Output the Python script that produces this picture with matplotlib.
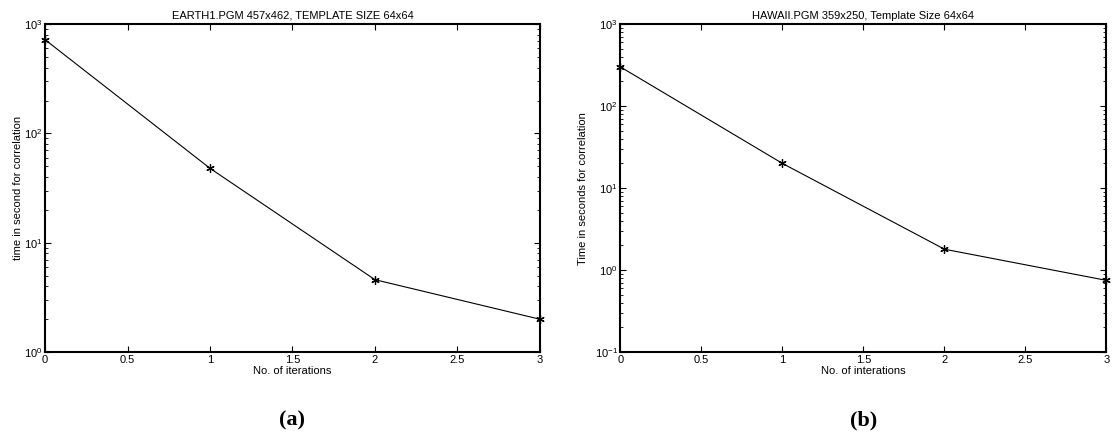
import numpy as np
import matplotlib
matplotlib.use("Agg")
import matplotlib.pyplot as plt
from matplotlib.ticker import LogLocator, NullFormatter

plt.rcParams['font.family'] = ['Liberation Sans', 'DejaVu Sans']
plt.rcParams['mathtext.fontset'] = 'custom'
plt.rcParams['mathtext.rm'] = 'Liberation Sans'

# veriler
iterations = [0, 1, 2, 3]
earth_time = [720, 48, 4.6, 2.0]
hawaii_time = [300, 20, 1.8, 0.75]
x_ticks = [0, 0.5, 1, 1.5, 2, 2.5, 3]

fig = plt.figure(figsize=(11.12, 4.38), dpi=100)
ax1 = fig.add_axes([0.0405, 0.196, 0.445, 0.749])
ax2 = fig.add_axes([0.558, 0.196, 0.437, 0.749])


def style_axis(ax, ymin, ymax):
    ax.set_yscale('log')
    ax.set_xlim(0, 3)
    ax.set_ylim(ymin, ymax)
    ax.set_xticks(x_ticks)
    ax.set_xticklabels([f"{t:g}" for t in x_ticks])
    ax.yaxis.set_major_locator(LogLocator(base=10, numticks=10))
    ax.yaxis.set_minor_locator(LogLocator(base=10, subs=np.arange(2, 10), numticks=10))
    ax.yaxis.set_minor_formatter(NullFormatter())
    ax.tick_params(which='both', direction='in', top=True, right=True,
                   labelsize=8, pad=2)
    ax.tick_params(which='major', length=4, width=0.8)
    ax.tick_params(which='minor', length=2, width=0.6)
    for s in ax.spines.values():
        s.set_linewidth(1.5)


# MATLAB tarzı yıldız işaretçi
star = (6, 2, 0)

ax1.plot(iterations, earth_time, color='black', lw=0.8, marker=star,
         markersize=6, markeredgewidth=0.9, clip_on=False)
style_axis(ax1, 1, 1000)
ax1.set_title("EARTH1.PGM 457x462, TEMPLATE SIZE 64x64", fontsize=8, pad=4)
ax1.set_xlabel("No. of iterations", fontsize=8, labelpad=1)
ax1.set_ylabel("time in second for correlation", fontsize=8)
ax1.yaxis.set_label_coords(-0.045, 0.5)

ax2.plot(iterations, hawaii_time, color='black', lw=0.8, marker=star,
         markersize=6, markeredgewidth=0.9, clip_on=False)
style_axis(ax2, 0.1, 1000)
ax2.set_title("HAWAII.PGM 359x250, Template Size 64x64", fontsize=8, pad=4)
ax2.set_xlabel("No. of interations", fontsize=8, labelpad=1)
ax2.set_ylabel("Time in seconds for correlation", fontsize=8)
ax2.yaxis.set_label_coords(-0.066, 0.5)

fig.text(0.263, 0.041, "(a)", ha='center', va='center', fontsize=16,
         fontweight='bold', family=['Liberation Serif', 'DejaVu Serif'])
fig.text(0.777, 0.041, "(b)", ha='center', va='center', fontsize=16,
         fontweight='bold', family=['Liberation Serif', 'DejaVu Serif'])

fig.savefig("out.png", dpi=100)
